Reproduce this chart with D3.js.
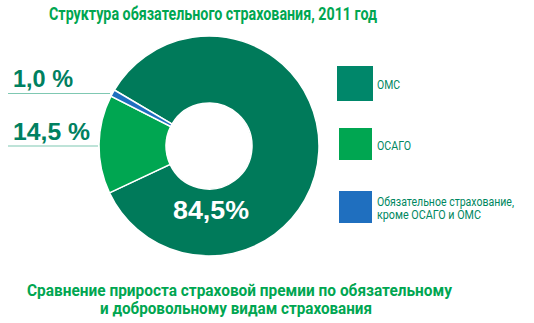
<!DOCTYPE html>
<html><head><meta charset="utf-8">
<script src="https://cdn.jsdelivr.net/npm/d3@7"></script>
<style>body{margin:0;background:#fff}svg{display:block}</style>
</head><body>
<script>
const categories = ["ОМС", "ОСАГО", "Обязательное страхование, кроме ОСАГО и ОМС"];
const legendLines = [["ОМС"], ["ОСАГО"], ["Обязательное страхование,", "кроме ОСАГО и ОМС"]];
const values = [84.5, 14.5, 1.0];
const valueLabels = ["84,5%", "14,5 %", "1,0 %"];
const sliceColors = ["#007a5a", "#00a651", "#1f6fbf"];
const legendColors = ["#00876a", "#00a651", "#1f6fbf"];
const title = "Структура обязательного страхования, 2011 год";
const subtitle = ["Сравнение прироста страховой премии по обязательному", "и добровольному видам страхования"];

const W = 534, H = 323;
const svg = d3.select("body").append("svg").attr("width", W).attr("height", H);
const narrow = "'Liberation Sans Narrow', 'Arial Narrow', 'Roboto', sans-serif";

svg.append("text").attr("x", 49).attr("y", 20).attr("font-family", narrow)
  .attr("font-weight", "bold").attr("font-size", 17.5).attr("fill", "#00a651")
  .attr("textLength", 328).attr("lengthAdjust", "spacingAndGlyphs").text(title);

const cx = 209, cy = 146, rOuter = 110, rInner = 43;
const startA = -59.4 * Math.PI / 180;
const pie = d3.pie().sort(null).value(d => d).startAngle(startA).endAngle(startA + 2 * Math.PI);
const arcs = pie(values);
const arc = d3.arc().innerRadius(rInner).outerRadius(rOuter);
const g = svg.append("g").attr("transform", `translate(${cx},${cy})`);
g.selectAll("path").data(arcs).join("path")
  .attr("d", arc).attr("fill", (d, i) => sliceColors[i])
  .attr("stroke", "#fff").attr("stroke-width", 1.5);

// main label
svg.append("text").attr("x", 211).attr("y", 219).attr("text-anchor", "middle")
  .attr("font-family", "'Liberation Sans', Arial, sans-serif").attr("font-weight", "bold")
  .attr("font-size", 25).attr("fill", "#fff")
  .attr("textLength", 76).attr("lengthAdjust", "spacingAndGlyphs").text(valueLabels[0]);

// side labels with leader lines
const side = [
  {i: 2, ty: 87, ly: 93.5, x2: 110, len: 60},
  {i: 1, ty: 140, ly: 146, x2: 98, len: 77}
];
side.forEach(s => {
  svg.append("line").attr("x1", 8).attr("x2", s.x2).attr("y1", s.ly).attr("y2", s.ly)
    .attr("stroke", "#7fc8b2").attr("stroke-width", 1.2);
  svg.append("text").attr("x", 13).attr("y", s.ty)
    .attr("font-family", "'Liberation Sans', Arial, sans-serif").attr("font-weight", "bold")
    .attr("font-size", 24.5).attr("fill", "#008060")
    .attr("textLength", s.len).attr("lengthAdjust", "spacingAndGlyphs")
    .text(valueLabels[s.i]);
});

// legend
const legY = [66, 128, 191];
const legLens = [[23], [34], [137, 104]];
legendLines.forEach((lines, i) => {
  svg.append("rect").attr("x", i === 0 ? 337 : 339).attr("y", legY[i])
    .attr("width", i === 0 ? 36 : 33).attr("height", i === 0 ? 35 : 32).attr("fill", legendColors[i]);
  const cyText = i === 2 ? [201, 214] : [legY[i] + (i === 0 ? 18 : 17)];
  lines.forEach((t, j) => {
    svg.append("text").attr("x", 377).attr("y", cyText[j] + 4.5)
      .attr("font-family", narrow).attr("font-size", 12).attr("fill", "#00875f")
      .attr("textLength", legLens[i][j]).attr("lengthAdjust", "spacingAndGlyphs")
      .text(t);
  });
});

// subtitle (one text block, two lines)
const sub = svg.append("text").attr("font-family", narrow).attr("font-weight", "bold")
  .attr("font-size", 15.8).attr("fill", "#00a651");
subtitle.forEach((t, j) => {
  sub.append("tspan").attr("x", j === 0 ? 27 : 100).attr("y", 295.5 + j * 18.5)
    .attr("textLength", j === 0 ? 425 : 272).attr("lengthAdjust", "spacingAndGlyphs").text(t);
});
</script>
</body></html>
